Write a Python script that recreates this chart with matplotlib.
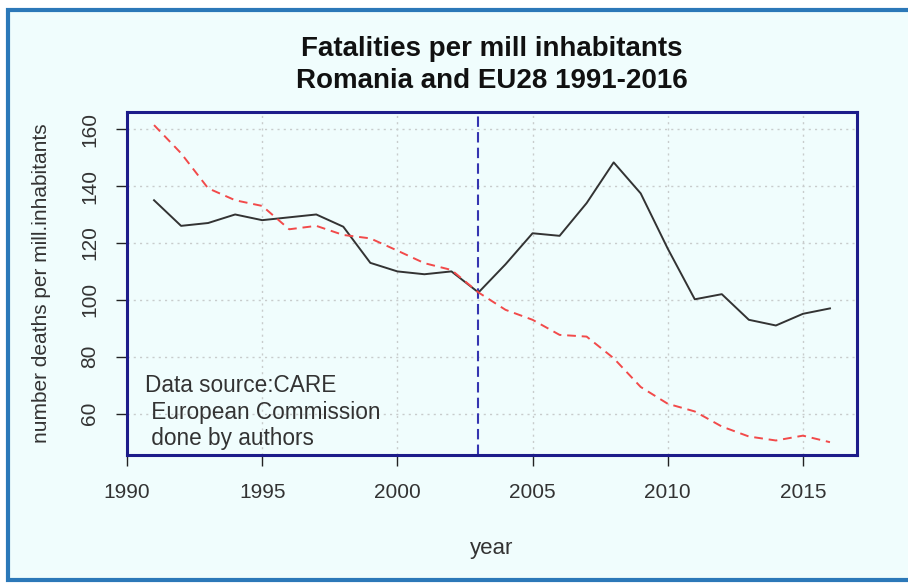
import matplotlib
matplotlib.use("Agg")
import matplotlib.pyplot as plt
from matplotlib.patches import Rectangle

plt.rcParams['font.family'] = ['Liberation Sans', 'DejaVu Sans']

# Road fatalities per million inhabitants
years = list(range(1991, 2017))
romania = [135, 126, 127, 130, 128, 129, 130, 125.7, 113, 110, 109, 110, 102.6,
           112.5, 123.4, 122.5, 134, 148.3, 137.4, 118, 100.2, 102, 93, 91, 95.1, 97]
eu28 = [161.4, 151.5, 139.2, 135, 133, 124.8, 126, 122.8, 121.6, 117.3, 112.9, 110.5, 102.6,
        96.5, 93, 87.7, 87.1, 79.5, 69.4, 63.5, 60.8, 55.5, 52, 50.6, 52.3, 50]
x_ticks = [1990, 1995, 2000, 2005, 2010, 2015]
y_ticks = [60, 80, 100, 120, 140, 160]
break_year = 2003

bg = '#f0fdfd'
navy = '#1c1c8a'

fig = plt.figure(figsize=(9.08, 5.84), dpi=100, facecolor='white')
fig.patches.append(Rectangle((8 / 908, 4 / 584), 1.05, 570 / 584, transform=fig.transFigure,
                             facecolor=bg, edgecolor='#2b78b8', linewidth=3, zorder=-10))

ax = fig.add_axes([127 / 908, 1 - 455 / 584, 730 / 908, 343 / 584])
ax.set_facecolor(bg)
ax.set_xlim(1990, 2017)
ax.set_ylim(45.5, 166)

ax.grid(True, color='#c8cccc', linestyle=(0, (1.5, 3)), linewidth=1)
ax.set_axisbelow(True)

ax.plot(years, romania, color='#333333', linewidth=1.4, zorder=3)
ax.plot(years, eu28, color='#f24a4a', linewidth=1.4, linestyle=(0, (4.5, 3)), zorder=3)
ax.axvline(break_year, color='#3535b0', linewidth=1.5, linestyle=(0, (5, 2.5)), zorder=2)

for s in ax.spines.values():
    s.set_color(navy)
    s.set_linewidth(2.2)

ax.set_xticks(x_ticks)
ax.set_yticks(y_ticks)
ax.tick_params(axis='x', direction='out', length=8, width=1, color='#222222',
               labelsize=15, labelcolor='#333333', pad=12)
ax.tick_params(axis='y', direction='out', length=8, width=1, color='#222222',
               labelsize=15, labelcolor='#333333', pad=12)
for lab in ax.get_yticklabels():
    lab.set_rotation(90)
    lab.set_verticalalignment('center')

ax.set_xlabel('year', fontsize=16, color='#333333', labelpad=26)
ax.set_ylabel('number deaths per mill.inhabitants', fontsize=15, color='#333333', labelpad=21)

fig.text(492 / 908, 1 - 65 / 584, 'Fatalities per mill inhabitants\nRomania and EU28 1991-2016',
         ha='center', va='center', fontsize=20, fontweight='bold', color='#111111',
         linespacing=1.25)

ax.text(1990.65, 60.5, 'Data source:CARE\n European Commission\n done by authors',
        ha='left', va='center', fontsize=16.3, color='#333333', linespacing=1.2)

fig.savefig('out.png', dpi=100, facecolor='white')
